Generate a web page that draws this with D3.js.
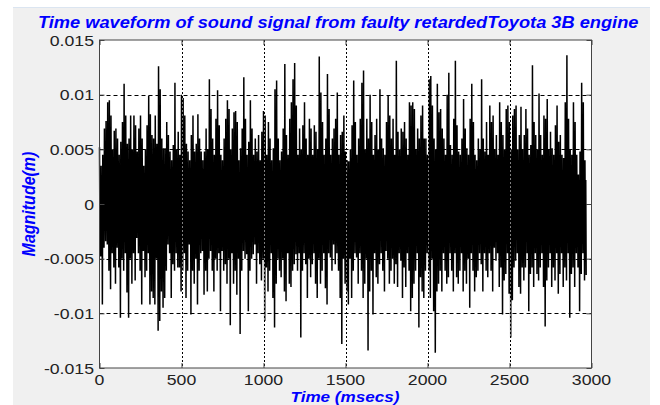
<!DOCTYPE html>
<html><head><meta charset="utf-8">
<script src="https://cdn.jsdelivr.net/npm/d3@7"></script>
<style>html,body{margin:0;padding:0;background:#fff;} svg{display:block;}</style>
</head><body><svg id="c" width="660" height="405"></svg>
<script>
const title = "Time waveform of sound signal from faulty retardedToyota 3B engine";
const xLabel = "Time (msecs)";
const yLabel = "Magnitude(m)";
const xTicks = [0, 500, 1000, 1500, 2000, 2500, 3000];
const xTickLabels = ["0", "500", "1000", "1500", "2000", "2500", "3000"];
const yTicks = [-0.015, -0.01, -0.005, 0, 0.005, 0.01, 0.015];
const yTickLabels = ["-0.015", "-0.01", "-0.005", "0", "0.005", "0.01", "0.015"];
const stepMs = 10;      // one peak + one trough per 10 ms slot
const unit = 0.0001;    // values below are in units of 0.0001 m
// positive excursions
const peaks = [
52,35,45,69,76,93,95,81,50,67, 69,60,45,57,75,110,81,55,60,81,
50,81,72,48,69,81,60,35,50,72, 99,82,63,60,81,55,126,105,60,51,
51,75,63,48,40,54,111,50,66,45, 100,97,81,55,48,40,63,81,48,55,
82,60,48,40,48,69,50,114,87,60, 45,78,104,72,45,40,60,78,95,87,
50,69,84,85,75,40,51,69,116,78, 45,57,95,69,45,60,48,63,40,66,
85,81,45,75,60,40,51,105,113,60, 40,48,69,128,63,45,78,93,114,129,
90,45,69,50,72,93,60,45,78,69, 45,72,66,50,135,102,75,45,60,119,
87,45,60,69,78,102,45,63,66,81, 48,40,39,50,72,113,75,45,60,78,
111,122,50,78,60,100,75,45,63,78, 50,105,60,51,45,75,99,81,60,78,
45,131,66,50,69,66,75,60,45,93, 90,93,87,50,69,60,81,90,60,60,
45,114,117,90,60,50,110,84,87,69, 60,45,100,120,54,45,78,131,72,48,
45,60,96,69,51,45,78,110,75,45, 40,60,50,114,60,48,75,45,90,75,
81,50,63,45,93,75,63,50,87,90, 75,50,81,87,90,50,63,89,50,63,
87,69,45,54,127,75,63,50,101,63, 45,81,78,96,50,66,51,45,72,90,
57,63,45,42,93,136,78,50,45,93, 75,45,27,48,111,93,40
];
// negative excursions (magnitudes)
const troughs = [
48,92,40,34,37,61,78,45,58,73, 40,58,104,50,61,45,81,104,50,73,
45,70,31,45,61,92,43,67,61,45, 92,80,86,92,50,116,107,80,95,86,
61,37,45,86,55,61,45,58,58,80, 61,45,86,61,37,101,61,73,50,92,
61,45,43,83,61,80,50,43,61,80, 50,61,45,98,43,61,55,73,50,111,
45,73,61,83,50,119,61,43,50,46, 98,61,50,46,37,73,45,55,70,50,
107,58,80,61,45,86,113,73,50,61, 67,50,80,89,45,73,76,61,55,46,
61,45,122,61,45,55,86,50,67,55, 45,73,86,50,73,61,45,77,92,45,
49,61,37,55,45,61,86,128,50,73, 80,92,50,86,61,45,49,73,45,61,
86,73,50,134,80,61,101,45,67,73, 55,45,61,80,43,50,73,61,50,73,
55,76,45,52,86,58,76,45,61,98, 86,73,61,45,113,67,80,86,61,45,
61,86,50,98,136,80,73,61,80,45, 61,73,67,45,61,80,45,67,73,61,
45,80,61,73,50,95,45,61,80,67, 61,45,55,80,45,61,67,45,61,80,
40,52,45,76,58,101,70,64,45,82, 122,88,58,52,45,76,82,58,70,58,
45,98,64,58,76,45,64,70,58,45, 76,112,70,58,45,76,58,70,45,82,
64,45,76,58,70,45,104,64,58,76, 45,58,98,64,45,70,65
];
// half-height of the solid black core of the trace, one value per 100 ms
const coreBand = [22,28,26,30,24,28,32,26,24,30, 28,24,26,32,28,24,30,26,28,22, 26,30,32,26,24,28,30,26,24,22];

const svg = d3.select("#c");
const W = 660, H = 405;
const plot = {l: 99.5, r: 591.5, t: 40, b: 368};
const blue = "#0000ff";
const fontFam = "'Liberation Sans', Arial, sans-serif";
const stretch = 1.14;

// background panel
svg.append("rect").attr("x", 0).attr("y", 0).attr("width", W).attr("height", H).attr("fill", "#ffffff");
svg.append("rect").attr("x", 13).attr("y", 8).attr("width", 637).attr("height", H - 8).attr("fill", "#f0f0f0");
svg.append("line").attr("x1", 13).attr("x2", 650).attr("y1", 7.5).attr("y2", 7.5).attr("stroke", "#dbe5f1").attr("stroke-width", 1);

const x = d3.scaleLinear().domain([0, 3000]).range([plot.l, plot.r]);
const y = d3.scaleLinear().domain([-0.015, 0.015]).range([plot.b, plot.t]);

svg.append("rect").attr("x", plot.l).attr("y", plot.t).attr("width", plot.r - plot.l).attr("height", plot.b - plot.t).attr("fill", "#fff");

// waveform data: peak, core low, core high, trough in each 10 ms slot
const wave = [];
peaks.forEach((p, i) => {
  const t0 = i * stepMs;
  const c = coreBand[Math.min(coreBand.length - 1, Math.floor(t0 / 100))] * unit;
  wave.push({t: t0, v: p * unit});
  wave.push({t: t0 + stepMs * 0.25, v: -c});
  wave.push({t: t0 + stepMs * 0.5, v: c});
  if (i < troughs.length) wave.push({t: t0 + stepMs * 0.75, v: -troughs[i] * unit});
});
const line = d3.line().x(d => x(d.t)).y(d => y(d.v));
svg.append("path").datum(wave).attr("d", line).attr("fill", "none").attr("stroke", "#000").attr("stroke-width", 1.5);

// grid (drawn on top, as in the original)
const g = svg.append("g");
yTicks.filter(v => Math.abs(v) < 0.0149).forEach(v => {
  g.append("line").attr("x1", plot.l).attr("x2", plot.r).attr("y1", Math.round(y(v)) + 0.5).attr("y2", Math.round(y(v)) + 0.5)
    .attr("stroke", "#000").attr("stroke-width", 1).attr("stroke-dasharray", "4,3");
});
xTicks.filter(v => v > 0 && v < 3000).forEach(v => {
  const xp = Math.round(x(v)) + 0.5;
  g.append("line").attr("x1", xp).attr("x2", xp).attr("y1", plot.t).attr("y2", plot.b)
    .attr("stroke", "#fff").attr("stroke-width", 1).attr("stroke-opacity", 0.5);
  g.append("line").attr("x1", xp).attr("x2", xp).attr("y1", plot.t).attr("y2", plot.b)
    .attr("stroke", "#000").attr("stroke-width", 1).attr("stroke-dasharray", "2,2");
});

// axes: ticks inside, on all four sides
const axisCol = "#444";
function styleAxis(sel) {
  sel.select(".domain").remove();
  sel.selectAll(".tick line").attr("stroke", axisCol);
  sel.selectAll(".tick text").remove();
}
svg.append("g").attr("transform", `translate(0,${plot.b})`).call(d3.axisBottom(x).tickValues(xTicks).tickSize(-5).tickFormat("")).call(styleAxis);
svg.append("g").attr("transform", `translate(0,${plot.t})`).call(d3.axisTop(x).tickValues(xTicks).tickSize(-5).tickFormat("")).call(styleAxis);
svg.append("g").attr("transform", `translate(${plot.l},0)`).call(d3.axisLeft(y).tickValues(yTicks).tickSize(-5).tickFormat("")).call(styleAxis);
svg.append("g").attr("transform", `translate(${plot.r},0)`).call(d3.axisRight(y).tickValues(yTicks).tickSize(-5).tickFormat("")).call(styleAxis);

svg.append("rect").attr("x", plot.l).attr("y", plot.t).attr("width", plot.r - plot.l).attr("height", plot.b - plot.t)
  .attr("fill", "none").attr("stroke", axisCol).attr("stroke-width", 1);

// tick labels
function stretchedText(px, py, txt, anchor, opts = {}) {
  return svg.append("text")
    .attr("transform", `translate(${px},${py}) scale(${stretch},1)`)
    .attr("text-anchor", anchor)
    .attr("font-family", fontFam)
    .attr("font-size", opts.size || 16)
    .attr("font-weight", opts.weight || "normal")
    .attr("font-style", opts.style || "normal")
    .attr("fill", opts.fill || "#222")
    .text(txt);
}
yTicks.forEach((v, i) => stretchedText(94, y(v) + 5.5, yTickLabels[i], "end", {size: 15.5}));
xTicks.forEach((v, i) => stretchedText(x(v), 385, xTickLabels[i], "middle", {size: 15.5}));

// title and axis labels
stretchedText(38, 28, title, "start", {weight: "bold", style: "italic", fill: blue, size: 16});
stretchedText(345, 401.5, xLabel, "middle", {weight: "bold", style: "italic", fill: blue, size: 15});
svg.append("text")
  .attr("transform", `translate(35,204) rotate(-90) scale(1,${stretch})`)
  .attr("text-anchor", "middle")
  .attr("font-family", fontFam).attr("font-size", 16).attr("font-weight", "bold").attr("font-style", "italic")
  .attr("fill", blue).text(yLabel);
</script></body></html>
